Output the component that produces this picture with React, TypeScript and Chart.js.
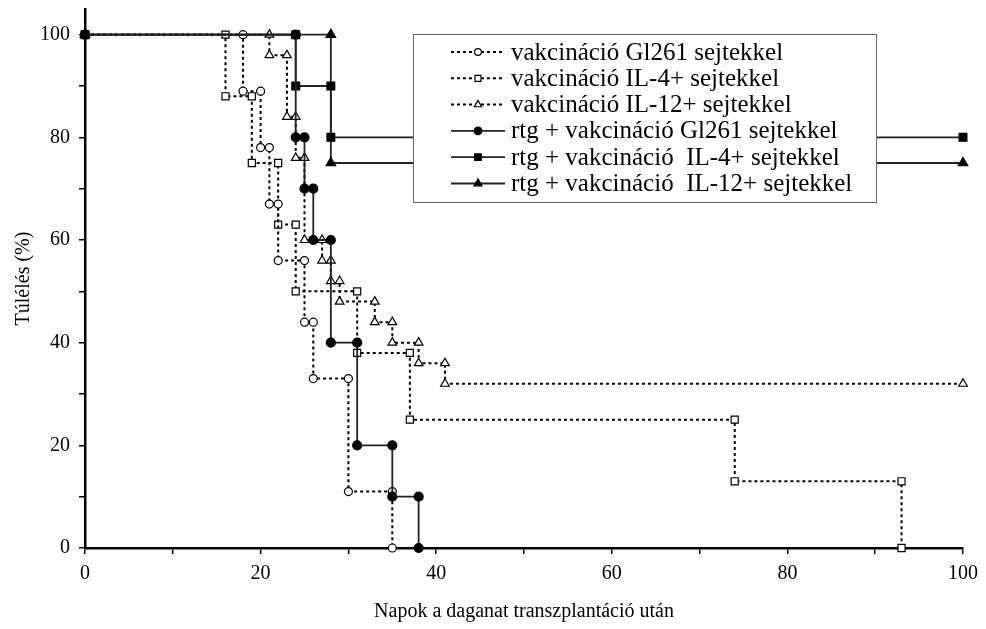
import React, { useEffect, useRef } from 'react';
import { Chart, registerables } from 'chart.js';

Chart.register(...registerables);

const seriesNames = [
  'vakcináció Gl261 sejtekkel',
  'vakcináció IL-4+ sejtekkel',
  'vakcináció IL-12+ sejtekkel',
  'rtg + vakcináció Gl261 sejtekkel',
  'rtg + vakcináció  IL-4+ sejtekkel',
  'rtg + vakcináció  IL-12+ sejtekkel',
];

// Kaplan-Meier events: day of event and survival (%) after it
const gl261Days = [0, 18, 20, 21, 22, 25, 26, 30, 35];
const gl261Surv = [100, 89, 78, 67, 56, 44, 33, 11, 0];

const il4Days = [0, 16, 19, 22, 24, 31, 37, 74, 93];
const il4Surv = [100, 88, 75, 63, 50, 38, 25, 13, 0];

const il12Days = [0, 21, 23, 24, 25, 27, 28, 29, 33, 35, 38, 41];
const il12Surv = [100, 96, 84, 76, 60, 56, 52, 48, 44, 40, 36, 32];
const il12End = 100;

const rtgGl261Days = [0, 24, 25, 26, 28, 31, 35, 38];
const rtgGl261Surv = [100, 80, 70, 60, 40, 20, 10, 0];

const rtgIl4Days = [0, 24, 28];
const rtgIl4Surv = [100, 90, 80];
const rtgIl4End = 100;

const rtgIl12Days = [0, 28];
const rtgIl12Surv = [100, 75];
const rtgIl12End = 100;

const xTicks = [0, 20, 40, 60, 80, 100];
const yTicks = [0, 20, 40, 60, 80, 100];

function kmPoints(days: number[], surv: number[], end?: number) {
  const pts: { x: number; y: number }[] = [{ x: days[0], y: surv[0] }];
  for (let i = 1; i < days.length; i++) {
    pts.push({ x: days[i], y: surv[i - 1] });
    pts.push({ x: days[i], y: surv[i] });
  }
  if (end !== undefined) pts.push({ x: end, y: surv[surv.length - 1] });
  return pts;
}

const FONT = 'Liberation Serif';

type Style = { point: 'circle' | 'rect' | 'triangle'; filled: boolean; dotted: boolean; r: number };
const styles: Style[] = [
  { point: 'circle', filled: false, dotted: true, r: 4 },
  { point: 'rect', filled: false, dotted: true, r: 5 },
  { point: 'triangle', filled: false, dotted: true, r: 5 },
  { point: 'circle', filled: true, dotted: false, r: 4.5 },
  { point: 'rect', filled: true, dotted: false, r: 5.5 },
  { point: 'triangle', filled: true, dotted: false, r: 5.5 },
];

function drawMarker(ctx: CanvasRenderingContext2D, s: Style, x: number, y: number, r: number) {
  ctx.save();
  ctx.setLineDash([]);
  ctx.beginPath();
  if (s.point === 'circle') {
    ctx.arc(x, y, r, 0, Math.PI * 2);
  } else if (s.point === 'rect') {
    const h = Math.SQRT1_2 * r;
    ctx.rect(x - h, y - h, 2 * h, 2 * h);
  } else {
    let a = 0;
    ctx.moveTo(x + Math.sin(a) * r, y - Math.cos(a) * r);
    a += (2 * Math.PI) / 3;
    ctx.lineTo(x + Math.sin(a) * r, y - Math.cos(a) * r);
    a += (2 * Math.PI) / 3;
    ctx.lineTo(x + Math.sin(a) * r, y - Math.cos(a) * r);
    ctx.closePath();
  }
  ctx.fillStyle = s.filled ? '#000' : '#fff';
  ctx.fill();
  ctx.lineWidth = 1.2;
  ctx.strokeStyle = '#000';
  ctx.stroke();
  ctx.restore();
}

const legendPlugin = {
  id: 'boxLegend',
  afterDraw(chart: any) {
    const ctx: CanvasRenderingContext2D = chart.ctx;
    const left = 413, top = 34, right = 876, bottom = 202;
    ctx.save();
    ctx.fillStyle = '#fff';
    ctx.fillRect(left, top, right - left, bottom - top);
    ctx.strokeStyle = '#666';
    ctx.lineWidth = 1;
    ctx.strokeRect(left + 0.5, top + 0.5, right - left, bottom - top);
    ctx.font = `25px "${FONT}"`;
    ctx.textBaseline = 'middle';
    ctx.textAlign = 'left';
    seriesNames.forEach((name, i) => {
      const s = styles[i];
      const y = 52 + i * 26.3;
      ctx.beginPath();
      ctx.strokeStyle = s.dotted ? '#000' : '#222';
      ctx.lineWidth = s.dotted ? 2 : 1.8;
      ctx.setLineDash(s.dotted ? [3, 3] : []);
      ctx.moveTo(451, y);
      ctx.lineTo(505, y);
      ctx.stroke();
      ctx.setLineDash([]);
      drawMarker(ctx, s, 478, y, s.r * 0.85);
      ctx.fillStyle = '#000';
      ctx.fillText(name, 511, y + 1);
    });
    ctx.restore();
  },
};

export default function App() {
  const ref = useRef<HTMLCanvasElement | null>(null);
  useEffect(() => {
    if (!ref.current) return;
    Chart.defaults.font.family = FONT;
    const series = [
      kmPoints(gl261Days, gl261Surv),
      kmPoints(il4Days, il4Surv),
      kmPoints(il12Days, il12Surv, il12End),
      kmPoints(rtgGl261Days, rtgGl261Surv),
      kmPoints(rtgIl4Days, rtgIl4Surv, rtgIl4End),
      kmPoints(rtgIl12Days, rtgIl12Surv, rtgIl12End),
    ];
    const datasets = series.map((data, i) => {
      const s = styles[i];
      return {
        label: seriesNames[i],
        data,
        showLine: true,
        borderColor: s.dotted ? '#000' : '#222',
        borderWidth: s.dotted ? 2 : 1.8,
        borderDash: s.dotted ? [3, 3] : [],
        pointStyle: s.point,
        pointRadius: s.r,
        pointHoverRadius: s.r,
        pointBackgroundColor: s.filled ? '#000' : '#fff',
        pointBorderColor: '#000',
        pointBorderWidth: 1.2,
        tension: 0,
        clip: false as any,
        order: s.dotted ? 1 : 0,
      };
    });
    const chart = new Chart(ref.current, {
      type: 'scatter',
      data: { datasets },
      options: {
        animation: false,
        responsive: false,
        maintainAspectRatio: false,
        layout: { padding: { left: 0, right: 21, top: 9, bottom: 0 } },
        plugins: { legend: { display: false }, tooltip: { enabled: false } },
        scales: {
          x: {
            type: 'linear',
            min: 0,
            max: 100,
            afterFit: (axis: any) => {
              axis.height = 81;
            },
            ticks: {
              stepSize: 10,
              autoSkip: false,
              maxRotation: 0,
              padding: 8,
              color: '#000',
              font: { family: FONT, size: 20 },
              callback: (v: any) => (xTicks.includes(Number(v)) ? String(v) : ''),
            },
            grid: { drawOnChartArea: false, drawTicks: true, tickLength: 6, color: '#000', lineWidth: 1.5 },
            border: { display: true, color: '#000', width: 2.5 },
            title: {
              display: true,
              text: 'Napok a daganat transzplantáció után',
              color: '#000',
              font: { family: FONT, size: 20 },
              padding: { top: 0, bottom: 5 },
            },
          },
          y: {
            type: 'linear',
            min: 0,
            max: 105,
            afterFit: (axis: any) => {
              axis.width = 85;
              axis.paddingTop = 0;
              axis.paddingBottom = 0;
            },
            ticks: {
              stepSize: 10,
              autoSkip: false,
              padding: 9,
              color: '#000',
              font: { family: FONT, size: 20 },
              callback: (v: any) => {
                const n = Number(v);
                if (n > 100) return null;
                return yTicks.includes(n) ? String(n) : '';
              },
            },
            grid: { drawOnChartArea: false, drawTicks: true, tickLength: 6, color: '#000', lineWidth: 1.5 },
            border: { display: true, color: '#000', width: 2.5 },
            title: {
              display: true,
              text: 'Túlélés (%)',
              color: '#000',
              font: { family: FONT, size: 20 },
              padding: { top: 12, bottom: 0 },
            },
          },
        },
      },
      plugins: [legendPlugin],
    } as any);
    return () => chart.destroy();
  }, []);
  return (
    <div style={{ position: 'absolute', left: 0, top: 0, width: 986, height: 629, background: '#fff' }}>
      <canvas ref={ref} width={986} height={629} style={{ display: 'block' }} />
    </div>
  );
}
